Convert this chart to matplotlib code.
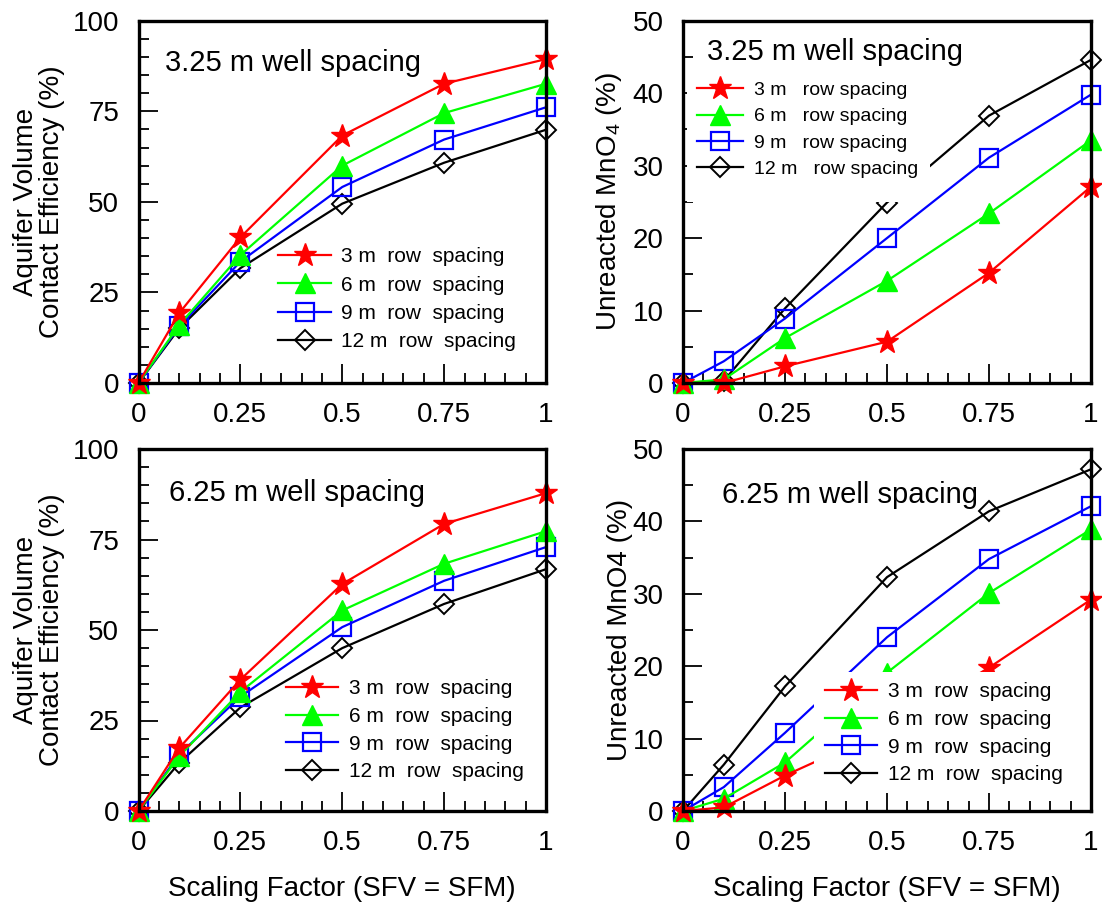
import matplotlib
matplotlib.use("Agg")
import matplotlib.pyplot as plt
from matplotlib.ticker import MultipleLocator, FixedLocator
from matplotlib.patches import Rectangle

plt.rcParams['font.family'] = ['Liberation Sans', 'DejaVu Sans']
plt.rcParams['mathtext.fontset'] = 'custom'
plt.rcParams['mathtext.rm'] = 'Liberation Sans'
plt.rcParams['mathtext.it'] = 'Liberation Sans:italic'

# ---------------- data ----------------
scaling = [0, 0.1, 0.25, 0.5, 0.75, 1]
x_ticks = [0, 0.25, 0.5, 0.75, 1]
x_ticklabels = ["0", "0.25", "0.5", "0.75", "1"]

ace_325_3m = [0, 19.3, 40.2, 68.3, 82.6, 89.4]
ace_325_6m = [0, 16.0, 35.3, 60.0, 74.5, 82.6]
ace_325_9m = [0, 15.6, 33.5, 54.1, 67.2, 76.1]
ace_325_12m = [0, 15.1, 31.7, 49.5, 60.8, 69.9]

unr_325_3m = [0, 0.0, 2.3, 5.7, 15.2, 27.1]
unr_325_6m = [0, 0.5, 6.2, 14.1, 23.4, 33.5]
unr_325_9m = [0, 3.0, 8.9, 20.0, 31.1, 39.8]
unr_325_12m = [0, 0.3, 10.3, 24.9, 36.9, 44.6]

ace_625_3m = [0, 17.4, 36.3, 62.7, 79.3, 87.8]
ace_625_6m = [0, 15.1, 32.9, 55.4, 68.3, 77.3]
ace_625_9m = [0, 15.6, 31.6, 50.8, 63.6, 72.9]
ace_625_12m = [0, 13.3, 28.6, 45.0, 57.2, 66.8]

unr_625_3m = [0, 0.5, 4.9, 11.3, 19.8, 29.2]
unr_625_6m = [0, 1.7, 6.7, 19.1, 30.1, 38.9]
unr_625_9m = [0, 3.3, 10.8, 24.0, 34.8, 42.1]
unr_625_12m = [0, 6.4, 17.2, 32.3, 41.4, 47.2]

labels_a = ["3 m  row  spacing", "6 m  row  spacing", "9 m  row  spacing", "12 m  row  spacing"]
labels_b = ["3 m   row spacing", "6 m   row spacing", "9 m   row spacing", "12 m   row spacing"]

styles = [
    dict(color='#FF0000', marker='*', ms=17, mfc='#FF0000', mec='#FF0000'),
    dict(color='#00FF00', marker='^', ms=14, mfc='#00FF00', mec='#00FF00'),
    dict(color='#0000FF', marker='s', ms=13, mfc='none', mec='#0000FF', mew=1.6),
    dict(color='#000000', marker='D', ms=10, mfc='none', mec='#000000', mew=1.4),
]

fig = plt.figure(figsize=(11.02, 9.02), dpi=100)

W, H = 1102, 902
def ax_rect(l, r, t, b):
    return [l / W, 1 - b / H, (r - l) / W, (b - t) / H]

ax_tl = fig.add_axes(ax_rect(138.5, 546, 20.7, 383))
ax_tr = fig.add_axes(ax_rect(683, 1091, 20.7, 383))
ax_bl = fig.add_axes(ax_rect(138.5, 546, 449, 811))
ax_br = fig.add_axes(ax_rect(683, 1091, 449, 811))

panels = [
    (ax_tl, [ace_325_3m, ace_325_6m, ace_325_9m, ace_325_12m], 100, 25, 5,
     "Aquifer Volume\nContact Efficiency (%)", "3.25 m well spacing", (0.0655, 0.86),
     labels_a, 15, (0.343, 0.374), 2.52, 0.51, 0.44, -0.18, False, None),
    (ax_tr, [unr_325_3m, unr_325_6m, unr_325_9m, unr_325_12m], 50, 10, 5,
     r"Unreacted MnO$_\mathrm{4}$ (%)", "3.25 m well spacing", (0.059, 0.892),
     labels_b, 14, (0.034, 0.832), 2.39, 0.57, 0.44, -0.145, False, (0.01, 0.5, 0.595, 0.37)),
    (ax_bl, [ace_625_3m, ace_625_6m, ace_625_9m, ace_625_12m], 100, 25, 5,
     "Aquifer Volume\nContact Efficiency (%)", "6.25 m well spacing", (0.074, 0.855),
     labels_a, 15, (0.362, 0.364), 2.49, 0.51, 0.42, -0.18, True, None),
    (ax_br, [unr_625_3m, unr_625_6m, unr_625_9m, unr_625_12m], 50, 10, 5,
     "Unreacted MnO4 (%)", "6.25 m well spacing", (0.0958, 0.85),
     labels_a, 15, (0.347, 0.356), 2.5, 0.55, 0.42, -0.123, True, (0.322, 0.05, 0.645, 0.335)),
]

for (ax, series, ymax, ymaj, ymin, ylab, title, tpos, labs, lfs, lpos,
     hlen, htp, lsp, ylx, show_xlabel, occl) in panels:
    handles = []
    for i, (vals, st) in enumerate(zip(series, styles)):
        h, = ax.plot(scaling, vals, lw=1.6, clip_on=False, zorder=5 - i, **st)
        handles.append(h)
    ax.set_xlim(0, 1)
    ax.set_ylim(0, ymax)
    ax.xaxis.set_major_locator(FixedLocator(x_ticks))
    ax.set_xticklabels(x_ticklabels)
    ax.xaxis.set_minor_locator(MultipleLocator(0.05))
    ax.yaxis.set_major_locator(MultipleLocator(ymaj))
    ax.yaxis.set_minor_locator(MultipleLocator(ymin))
    ax.tick_params(which='both', direction='in', top=False, right=False,
                   labelsize=20, width=1.3)
    ax.tick_params(which='major', length=13.5, pad=14)
    ax.tick_params(which='minor', length=7)
    for sp in ax.spines.values():
        sp.set_linewidth(2.4)
        sp.set_zorder(6)
    ax.set_ylabel(ylab, fontsize=20, linespacing=1.0)
    ax.yaxis.set_label_coords(ylx, 0.5)
    if show_xlabel:
        ax.set_xlabel("Scaling Factor (SFV = SFM)", fontsize=20, labelpad=14)
    ax.text(tpos[0], tpos[1], title, transform=ax.transAxes, fontsize=21,
            ha='left', va='baseline', zorder=8)
    if occl is not None:
        ax.add_patch(Rectangle((occl[0], occl[1]), occl[2], occl[3],
                               transform=ax.transAxes, facecolor='white',
                               edgecolor='none', zorder=6.5))
    leg = ax.legend(handles, labs, loc='upper left', bbox_to_anchor=lpos,
                    frameon=False, fontsize=lfs, borderpad=0, borderaxespad=0,
                    handlelength=hlen, handletextpad=htp, labelspacing=lsp,
                    numpoints=1)
    leg.set_zorder(9)

fig.savefig("out.png", dpi=100)
